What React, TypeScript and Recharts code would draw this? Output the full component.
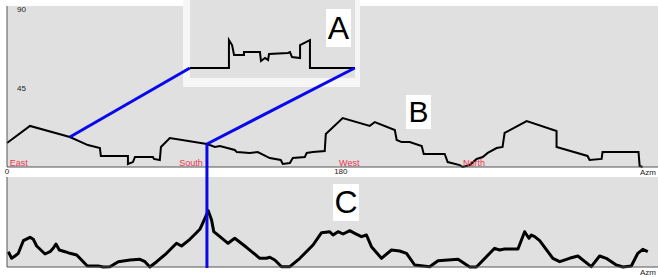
import { CartesianGrid, Line, LineChart, ReferenceLine, XAxis, YAxis } from "recharts";

// horizon profile (top panel): azimuth in degrees, elevation in degrees
const profileAz = [0, 12.4, 33.9, 43.6, 50.1, 50.6, 65.2, 65.2, 67.9, 69.0, 78.7, 79.2, 82.4, 83.0, 87.8, 107.8, 112.1, 114.8, 122.8, 123.9, 130.9, 135.2, 141.7, 147.6, 148.7, 152.5, 154.1, 160.6, 161.6, 164.9, 171.3, 171.9, 181.0, 195.6, 198.3, 209.1, 210.1, 212.8, 217.1, 223.6, 224.7, 236.0, 237.6, 244.1, 245.7, 249.5, 253.2, 256.5, 259.2, 264.0, 267.2, 268.3, 280.2, 296.3, 296.3, 313.0, 314.1, 320.6, 321.1, 340.5, 341.1, 342.7];
const profileEl = [13.7, 23.4, 17.1, 12.5, 10.8, 6.3, 6.3, 1.7, 2.8, 5.7, 5.7, 4.6, 4.0, 11.4, 16.5, 13.1, 11.4, 12.0, 9.7, 8.5, 8.0, 8.5, 5.1, 4.0, 1.7, 2.3, 5.1, 5.7, 8.0, 8.5, 9.1, 18.8, 27.9, 23.4, 25.6, 21.1, 15.4, 14.2, 14.2, 12.0, 7.4, 7.4, 2.8, 1.1, 0, 1.1, 4.6, 5.7, 8.0, 10.8, 11.4, 19.4, 26.2, 20.5, 11.4, 6.3, 4.0, 4.6, 8.5, 8.5, 0.6, 0];

// bottom panel curve
const curveAz = [0.7, 2.5, 4.3, 6.1, 8.8, 12.4, 14.2, 16.0, 20.5, 23.2, 24.9, 26.4, 28.2, 31.3, 33.9, 37.6, 43.3, 49.2, 51.9, 55.5, 60.0, 66.3, 71.7, 74.4, 77.0, 80.7, 86.0, 91.4, 94.1, 98.6, 104.0, 106.7, 108.5, 110.3, 111.5, 114.8, 119.2, 122.8, 129.1, 136.3, 139.9, 141.7, 144.4, 148.0, 152.5, 157.9, 165.0, 169.6, 174.0, 175.8, 178.5, 181.2, 184.8, 187.5, 191.1, 193.8, 196.5, 201.9, 207.3, 211.7, 215.4, 219.8, 227.9, 232.4, 243.2, 249.5, 253.1, 262.9, 265.6, 268.3, 275.5, 279.1, 281.4, 282.7, 284.5, 287.2, 294.3, 298.0, 303.3, 307.8, 315.0, 319.5, 323.1, 328.5, 332.1, 336.6, 340.1, 342.8, 345.5];
const curveVal = [15.3, 8.7, 11, 13.7, 26.3, 29.7, 27.7, 21, 13, 15.3, 18.7, 23, 17, 15.3, 13.7, 12, 1, 1, 0, 0.3, 5.3, 7, 7.7, 5.3, 0, 5.3, 13.7, 23.7, 21, 27.7, 37.7, 48.7, 56.3, 47, 35.3, 30.3, 23.7, 28.7, 19.7, 8.7, 8.7, 9.7, 7, 0.3, 0.3, 8.7, 22, 34.3, 35.3, 32, 35.3, 33, 36.3, 33.7, 30.3, 32, 20.3, 8.7, 17, 16, 13.7, 2, 0.3, 6.3, 7.7, 0, 0, 18.7, 17, 18, 18, 35.3, 28.7, 32, 30.3, 26.3, 8.7, 5.3, 8.7, 11, 0.3, 11, 8.7, 2, 0, 1, 13.7, 17.7, 15.3];

// zoomed detail (inset A), in its own 0..100 units
const insetX = [0, 23.6, 23.6, 25.5, 26.7, 32.7, 32.7, 42.4, 43.0, 45.5, 47.3, 47.9, 59.4, 60.6, 61.8, 66.7, 66.7, 72.7, 72.7, 100];
const insetY = [12.8, 12.8, 48.7, 42.3, 29.5, 29.5, 33.3, 33.3, 21.8, 25.6, 23.1, 30.8, 32.1, 33.3, 26.9, 25.6, 42.3, 48.7, 12.8, 12.8];

const compassNames = ["East", "South", "West", "North"];
const compassAz = [1, 92.3, 178.5, 245.3];
const elevationTicks = [45, 90];
const azimuthTicks = [0, 180];

// blue connectors in top-panel coordinates (azimuth, elevation)
const connectors = [
  [{ x: 98.6, y: 56.4 }, { x: 33.9, y: 17.1 }],
  [{ x: 187.5, y: 56.4 }, { x: 107.8, y: 13.1 }],
  [{ x: 107.8, y: 13.1 }, { x: 107.8, y: -57.5 }],
];

const AZ_DOMAIN: [number, number] = [0, 351];
const EL_DOMAIN: [number, number] = [0, 91.7];
const FONT = "'Liberation Sans', Arial, sans-serif";
const PANEL = "#e0e0e0";
const AXIS = "#555";
const RED = "#e8364f";
const BLUE = "#0808ea";

const profileData = profileAz.map((az, i) => ({ az, el: profileEl[i] }));
const curveData = curveAz.map((az, i) => ({ az, v: curveVal[i] }));
const insetData = insetX.map((x, i) => ({ x, y: insetY[i] }));

const letterBox = (left: number, top: number, w: number, h: number, size: number) => ({
  position: "absolute" as const,
  left,
  top,
  width: w,
  height: h,
  background: "#fff",
  fontSize: size,
  lineHeight: `${h}px`,
  textAlign: "center" as const,
  color: "#000",
  fontFamily: FONT,
});

export default function App() {
  return (
    <div style={{ position: "relative", width: 658, height: 277, background: "#fff", fontFamily: FONT, overflow: "hidden" }}>
      <style>{"body{margin:0}"}</style>

      <div style={{ position: "absolute", left: 0, top: 0 }}>
        <LineChart width={658} height={177} data={profileData} margin={{ top: 6, right: 0, bottom: 0, left: 7 }}>
          <CartesianGrid fill={PANEL} horizontal={false} vertical={false} />
          <XAxis
            dataKey="az"
            type="number"
            domain={AZ_DOMAIN}
            ticks={azimuthTicks}
            interval={0}
            height={10}
            tickSize={0}
            tickMargin={1}
            stroke={AXIS}
            tick={{ fontSize: 8, fill: "#222" }}
            label={{ value: "Azm", position: "insideRight", offset: 2, fontSize: 8, fill: "#222" }}
          />
          <YAxis
            type="number"
            domain={EL_DOMAIN}
            ticks={elevationTicks}
            mirror
            tickLine={false}
            tickMargin={4}
            stroke={AXIS}
            tick={{ fontSize: 8, fill: "#222" }}
          />
          {compassNames.map((name, i) => (
            <ReferenceLine
              key={name}
              x={compassAz[i]}
              stroke="none"
              label={{ value: name, position: "insideBottomLeft", offset: 1, fill: RED, fontSize: 9 }}
            />
          ))}
          <Line dataKey="el" stroke="#000" strokeWidth={2} dot={false} isAnimationActive={false} />
        </LineChart>
      </div>

      <div style={{ position: "absolute", left: 0, top: 170 }}>
        <LineChart width={658} height={107} data={curveData} margin={{ top: 7, right: 0, bottom: 0, left: 7 }}>
          <CartesianGrid fill={PANEL} horizontal={false} vertical={false} />
          <XAxis
            dataKey="az"
            type="number"
            domain={AZ_DOMAIN}
            height={10}
            tick={false}
            tickLine={false}
            stroke={AXIS}
            label={{ value: "Azm", position: "insideRight", offset: 2, fontSize: 8, fill: "#222" }}
          />
          <YAxis type="number" domain={[0, 90]} mirror tick={false} tickLine={false} stroke={AXIS} />
          <Line
            dataKey="v"
            stroke="#000"
            strokeWidth={3}
            strokeLinejoin="round"
            dot={false}
            isAnimationActive={false}
          />
        </LineChart>
      </div>

      {/* inset A */}
      <div style={{ position: "absolute", left: 183, top: 0, width: 177, height: 87, background: "#f6f6f6" }}>
        <div style={{ position: "absolute", left: 7, top: 0, width: 165, height: 78, background: PANEL }}>
          <LineChart width={165} height={78} data={insetData} margin={{ top: 0, right: 0, bottom: 0, left: 0 }}>
            <XAxis dataKey="x" type="number" domain={[0, 100]} hide />
            <YAxis type="number" domain={[0, 100]} hide />
            <Line dataKey="y" stroke="#000" strokeWidth={2} dot={false} isAnimationActive={false} />
          </LineChart>
        </div>
      </div>

      {/* blue connectors on top of everything, sharing the top panel's scales */}
      <div style={{ position: "absolute", left: 0, top: 0, pointerEvents: "none" }}>
        <LineChart width={658} height={277} data={profileData} margin={{ top: 6, right: 0, bottom: 110, left: 7 }}>
          <XAxis type="number" dataKey="az" domain={AZ_DOMAIN} hide />
          <YAxis type="number" domain={EL_DOMAIN} hide />
          <Line dataKey="el" stroke="none" dot={false} activeDot={false} isAnimationActive={false} />
          {connectors.map((seg, i) => (
            <ReferenceLine key={i} segment={seg} stroke={BLUE} strokeWidth={3} ifOverflow="visible" />
          ))}
        </LineChart>
      </div>

      <div style={letterBox(326, 9, 25, 38, 32)}>A</div>
      <div style={letterBox(406, 95, 25, 34, 30)}>B</div>
      <div style={letterBox(333, 184, 26, 37, 32)}>C</div>
    </div>
  );
}
